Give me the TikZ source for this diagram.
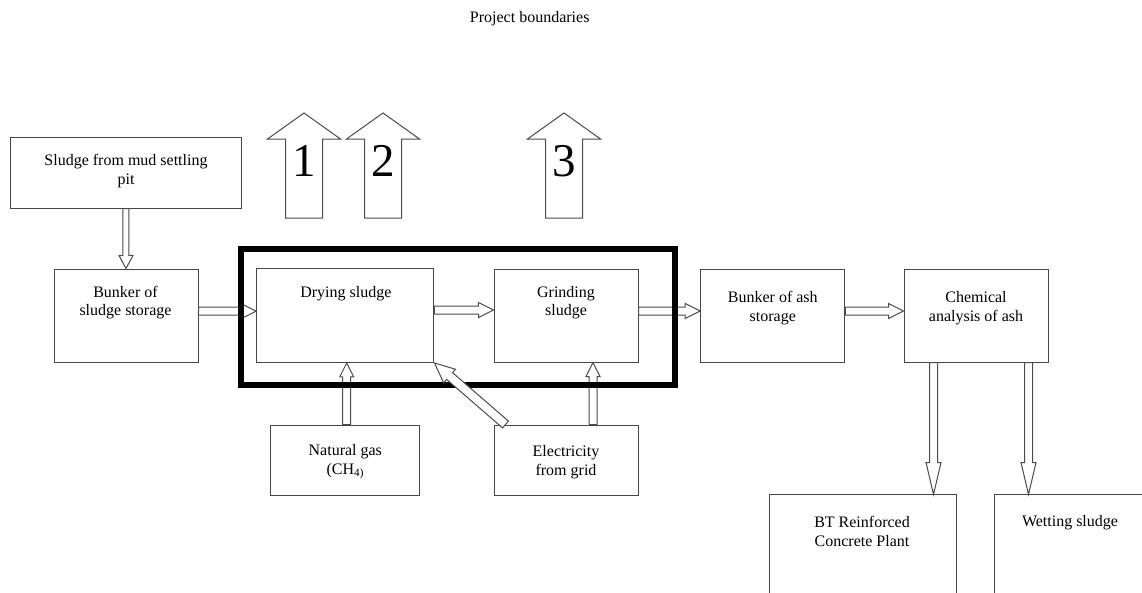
\documentclass[tikz,border=0pt]{standalone}
\usepackage{fontspec}
\setmainfont{Liberation Serif}
\usetikzlibrary{calc}
\tikzset{
  box/.style={draw=black!72, line width=1pt, rectangle, inner sep=0pt},
  txt/.style={font=\fontsize{16}{18.4}\selectfont, align=center, inner sep=0pt},
  blk/.style={draw=black!70, fill=white, line width=1pt, line join=miter},
  digit/.style={font=\fontsize{47}{50}\selectfont, inner sep=0pt},
  boundary/.style={draw=black, line width=5.5pt, line join=miter}
}
% block arrow: from, to, shaft half width, head half width, head length
\newcommand{\bkarrow}[6][]{%
  \coordinate (bA) at (#2); \coordinate (bB) at (#3);
  \coordinate (bH) at ($(bB)!#6!(bA)$);
  \draw[blk,#1] ($(bA)!#4!90:(bB)$) -- ($(bH)!#4!90:(bB)$) -- ($(bH)!#5!90:(bB)$) -- (bB)
    -- ($(bH)!#5!-90:(bB)$) -- ($(bH)!#4!-90:(bB)$) -- ($(bA)!#4!-90:(bB)$) -- cycle;}
\begin{document}
\begin{tikzpicture}[x=1pt,y=-1pt]
\clip (0,0) rectangle (1142,592);
\fill[white] (0,0) rectangle (1142,592);

% title
\node[txt] (title) at (529.7,19) {Project boundaries};

% boxes
\node[box, minimum width=230.3pt, minimum height=71pt] (sludge) at (125.9,172.5) {};
\node[box, minimum width=144pt, minimum height=93pt] (bunk) at (126,315.5) {};
\node[box, minimum width=177.3pt, minimum height=93.5pt] (dry) at (345.3,315.7) {};
\node[box, minimum width=144pt, minimum height=93pt] (grind) at (566,315.5) {};
\node[box, minimum width=144.3pt, minimum height=93pt] (ash) at (772.8,315.5) {};
\node[box, minimum width=144pt, minimum height=93pt] (chem) at (976,315.5) {};
\node[box, minimum width=149.3pt, minimum height=70pt] (gas) at (345.3,460) {};
\node[box, minimum width=144pt, minimum height=70pt] (elec) at (566,460) {};
\node[box, minimum width=187pt, minimum height=126pt] (bt) at (862.5,557) {};
\node[box, minimum width=176pt, minimum height=126pt] (wet) at (1082,557) {};

% texts
\node[txt] (sludge-t) at (126,171) {Sludge from mud settling\\pit};
\node[txt] (bunk-t) at (125.5,302.5) {Bunker of\\sludge storage};
\node[txt] (dry-t) at (345.8,294) {Drying sludge};
\node[txt] (grind-t) at (566,302.5) {Grinding\\sludge};
\node[txt] (ash-t) at (772.8,308) {Bunker of ash\\storage};
\node[txt] (chem-t) at (976,308) {Chemical\\analysis of ash};
\node[txt] (gas-t) at (345.3,462) {Natural gas\\(CH\textsubscript{4)}};
\node[txt] (elec-t) at (566,462) {Electricity\\from grid};
\node[txt] (bt-t) at (862,531.5) {BT Reinforced\\Concrete Plant};
\node[txt] (wet-t) at (1070,523) {Wetting sludge};

% flow arrows
\bkarrow{sludge.south}{bunk.north}{3pt}{7pt}{13pt}
\bkarrow{$(bunk.east)+(0,-4.5)$}{$(dry.west)+(0,-4.5)$}{4pt}{7.5pt}{15pt}
\bkarrow{$(dry.east)+(0,-5.5)$}{$(grind.west)+(0,-5.5)$}{4pt}{7.5pt}{15pt}
\bkarrow{$(grind.east)+(0,-4.5)$}{$(ash.west)+(0,-4.5)$}{4pt}{7.5pt}{15pt}
\bkarrow{$(ash.east)+(0,-4.5)$}{$(chem.west)+(0,-4.5)$}{4pt}{7.5pt}{15pt}
\bkarrow{$(chem.south west)+(30,0)$}{$(chem.south west)+(30,132)$}{4pt}{7.5pt}{32pt}
\bkarrow{$(chem.south east)+(-20,0)$}{$(chem.south east)+(-20,132)$}{4pt}{7.5pt}{32pt}
\bkarrow{$(gas.north)+(1.4,0)$}{$(dry.south)+(1.4,0)$}{4pt}{7pt}{14pt}
\bkarrow{$(elec.north)+(27,0)$}{$(grind.south)+(27,0)$}{4pt}{7pt}{14pt}

% project boundary
\draw[boundary] (241,249) rectangle (675,385);

% diagonal arrow over the boundary
\bkarrow{$(elec.north west)+(12,0)$}{dry.south east}{4.5pt}{9pt}{20pt}

% emission arrows
\coordinate (e1b) at (304,218); \coordinate (e1t) at (304,113);
\coordinate (e2b) at (383,218); \coordinate (e2t) at (383,113);
\coordinate (e3b) at (564,218); \coordinate (e3t) at (564,113);
\bkarrow{e1b}{e1t}{18.5pt}{36.5pt}{26pt}
\bkarrow{e2b}{e2t}{18.5pt}{36.5pt}{26pt}
\bkarrow{e3b}{e3t}{18.5pt}{36.5pt}{26pt}
\node[digit] (n1) at (304,161) {1};
\node[digit] (n2) at (383,161) {2};
\node[digit] (n3) at (564,161) {3};
\end{tikzpicture}
\end{document}
